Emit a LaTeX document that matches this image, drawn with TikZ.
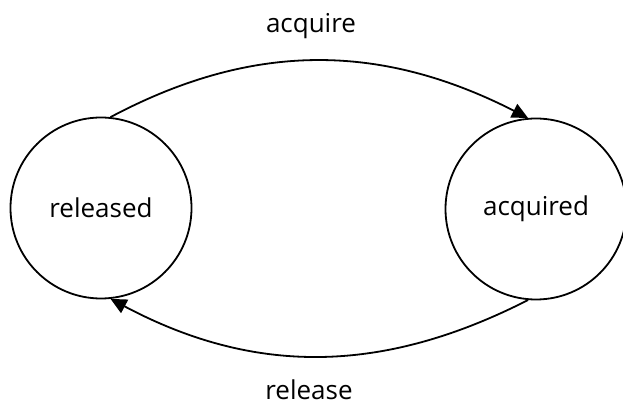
\documentclass[tikz,border=0pt]{standalone}
\usepackage{fontspec}
\setmainfont{Open Sans}
\usetikzlibrary{arrows.meta}
\begin{document}
\begin{tikzpicture}[x=1pt,y=1pt,
    state/.style={draw, circle, line width=1.8pt, minimum size=181pt, inner sep=0pt, font=\fontsize{26}{30}\selectfont},
    trans/.style={line width=1.8pt, -{Triangle[length=16pt,width=15pt]}},
    lbl/.style={inner sep=0pt, anchor=base, font=\fontsize{26}{30}\selectfont}]
  \useasboundingbox (0,0) rectangle (623,407);
  % the two states
  \node[state] (rel) at (101,199) {released};
  \node[state] (acq) at (536,198) {acquired};
  % transitions between them
  \draw[trans] (rel.84) to[out=28, in=153] (acq.95);
  \draw[trans] (acq.265) to[out=207, in=-28] (rel.276);
  % transition labels
  \node[lbl] (lacq) at (311,374) {acquire};
  \node[lbl] (lrel) at (309,8) {release};
\end{tikzpicture}
\end{document}
